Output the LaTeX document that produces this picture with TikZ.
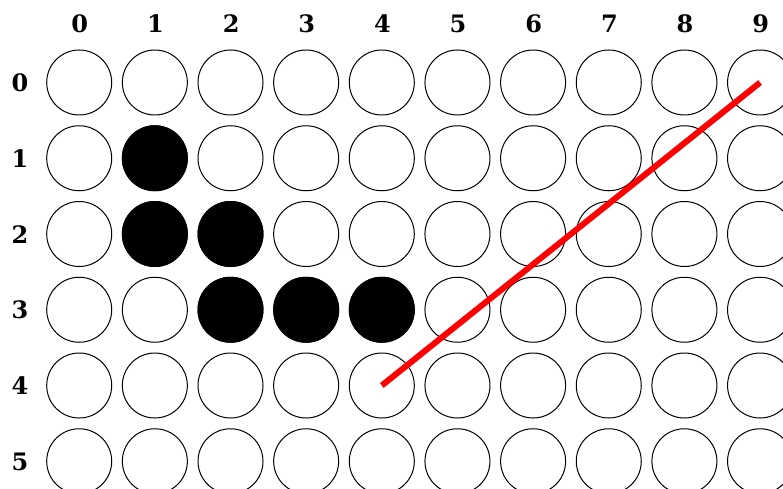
\documentclass[tikz,border=0pt]{standalone}
\usepackage{fontspec}
\setmainfont{DejaVu Serif}
\begin{document}
\begin{tikzpicture}[x=1pt,y=1pt,
  cell/.style={circle,draw=black,line width=1pt,minimum size=65pt,inner sep=0pt},
  full/.style={cell,fill=black},
  lab/.style={font=\fontsize{24}{28}\selectfont\bfseries,inner sep=0pt},
  path/.style={red,line width=6pt}]
\useasboundingbox (0,0) rectangle (783,-489);
\begin{scope}
\clip (0,0) rectangle (783,-489);
\foreach \i in {0,...,9} {
  \node[lab] (c\i) at ({79.8+75.65*\i},-23.5) {\i};
}
\foreach \j in {0,...,5} {
  \node[lab] (r\j) at (20,{-(83+75.75*\j)}) {\j};
}
\foreach \i in {0,...,9} {
  \foreach \j in {0,...,5} {
    \node[cell] (n\i-\j) at ({79.2+75.65*\i},{-(82.5+75.75*\j)}) {};
  }
}
\foreach \p in {1-1,1-2,2-2,2-3,3-3,4-3} {
  \node[full] at (n\p) {};
}
\draw[path] (n4-4.center) -- (n9-0.center);
\end{scope}
\end{tikzpicture}
\end{document}
